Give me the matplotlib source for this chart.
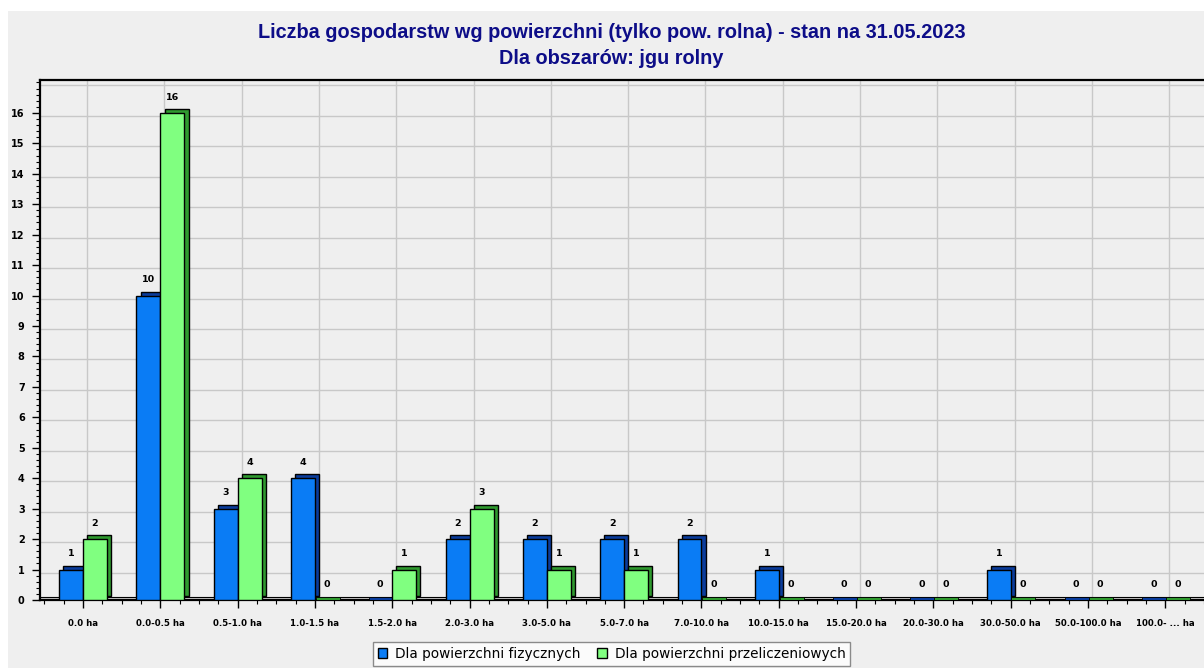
import matplotlib
matplotlib.use("Agg")
import matplotlib.pyplot as plt
import matplotlib.patches as mpatches
from matplotlib.ticker import MultipleLocator
import numpy as np

categories = ["0.0 ha", "0.0-0.5 ha", "0.5-1.0 ha", "1.0-1.5 ha", "1.5-2.0 ha", "2.0-3.0 ha",
              "3.0-5.0 ha", "5.0-7.0 ha", "7.0-10.0 ha", "10.0-15.0 ha", "15.0-20.0 ha",
              "20.0-30.0 ha", "30.0-50.0 ha", "50.0-100.0 ha", "100.0- ... ha"]
fizyczne = [1, 10, 3, 4, 0, 2, 2, 2, 2, 1, 0, 0, 1, 0, 0]
przeliczeniowe = [2, 16, 4, 0, 1, 3, 1, 1, 0, 0, 0, 0, 0, 0, 0]
series_names = ["Dla powierzchni fizycznych", "Dla powierzchni przeliczeniowych"]
title_lines = ["Liczba gospodarstw wg powierzchni (tylko pow. rolna) - stan na 31.05.2023",
               "Dla obszarów: jgu rolny"]

W, H = 1204, 668
fig = plt.figure(figsize=(W / 100, H / 100), dpi=100, facecolor="white")
bg = "#efefef"
fig.patches.append(mpatches.Rectangle((8 / W, 0), 1, (H - 11) / H, transform=fig.transFigure,
                                      facecolor=bg, edgecolor="none", zorder=-10))

ax = fig.add_axes([40 / W, 68 / H, (W - 40) / W, 520 / H])
ax.set_facecolor(bg)

x = np.arange(len(categories))
bw = 0.31
dx, dy = 0.055, 0.13
cols = [("#0a7cf5", "#0a3c9c"), ("#80ff80", "#2f9a2f")]

# 3D-offset grid
for xi in x:
    ax.axvline(xi + 0.052, color="#c8c8c8", linewidth=1.0, zorder=0)
for yi in range(1, 18):
    ax.axhline(yi - 0.1, color="#c8c8c8", linewidth=1.0, zorder=0)

# floor strip
ax.add_patch(mpatches.Rectangle((-0.6, 0), 16, 0.1, facecolor="#d4d4d4", edgecolor="black",
                                linewidth=0.8, zorder=2))

for s, (vals, (fc, dc)) in enumerate(zip([fizyczne, przeliczeniowe], cols)):
    xs = x + (s - 0.5) * bw
    for xi, v in zip(xs, vals):
        if v > 0:
            ax.bar(xi + dx, v, width=bw, bottom=dy, color=dc, edgecolor="black", linewidth=1.0, zorder=3)
            ax.bar(xi, v, width=bw, color=fc, edgecolor="black", linewidth=1.0, zorder=4)
        else:
            ax.bar(xi + 0.01, 0.1, width=bw, color=dc, edgecolor="black", linewidth=0.6, zorder=4)
        ax.text(xi, v + 0.52, str(v), ha="center", va="center", fontsize=6.8,
                fontweight="bold", color="black", zorder=5)

ax.set_xlim(-0.556, 14.5)
ax.set_ylim(0, 17.08)
ax.set_xticks(x)
ax.set_xticklabels(categories, fontsize=6.2, fontweight="bold")
ax.xaxis.set_minor_locator(MultipleLocator(0.25))
ax.set_yticks(range(0, 17))
ax.set_yticklabels([str(i) for i in range(0, 17)], fontsize=7, fontweight="bold")
ax.yaxis.set_minor_locator(MultipleLocator(0.2))
ax.tick_params(axis="x", which="major", length=6, width=1, pad=8)
ax.tick_params(axis="x", which="minor", length=3, width=0.8)
ax.tick_params(axis="y", which="major", length=6, width=1, pad=5)
ax.tick_params(axis="y", which="minor", length=3, width=0.8)
for side in ["left", "top", "bottom"]:
    ax.spines[side].set_color("black")
    ax.spines[side].set_linewidth(1.6)
ax.spines["right"].set_visible(False)

fig.text(0.508, 1 - 33 / H, title_lines[0], ha="center", va="center", fontsize=14.3,
         fontweight="bold", color="#0d0d88", family="Liberation Sans")
fig.text(0.508, 1 - 58 / H, title_lines[1], ha="center", va="center", fontsize=14.3,
         fontweight="bold", color="#0d0d88", family="Liberation Sans")

handles = [mpatches.Patch(facecolor=cols[0][0], edgecolor="black", linewidth=1.0),
           mpatches.Patch(facecolor=cols[1][0], edgecolor="black", linewidth=1.0)]
leg = fig.legend(handles, series_names, loc="upper center", bbox_to_anchor=(0.508, 1 - 642 / H),
                 ncol=2, fontsize=9.8, frameon=True, fancybox=False, handlelength=0.7,
                 handleheight=0.7, handletextpad=0.6, columnspacing=1.2, borderpad=0.35,
                 borderaxespad=0)
leg.get_frame().set_edgecolor("#707070")
leg.get_frame().set_facecolor("white")
leg.get_frame().set_linewidth(1.0)

fig.savefig("out.png", dpi=100, facecolor="white")
